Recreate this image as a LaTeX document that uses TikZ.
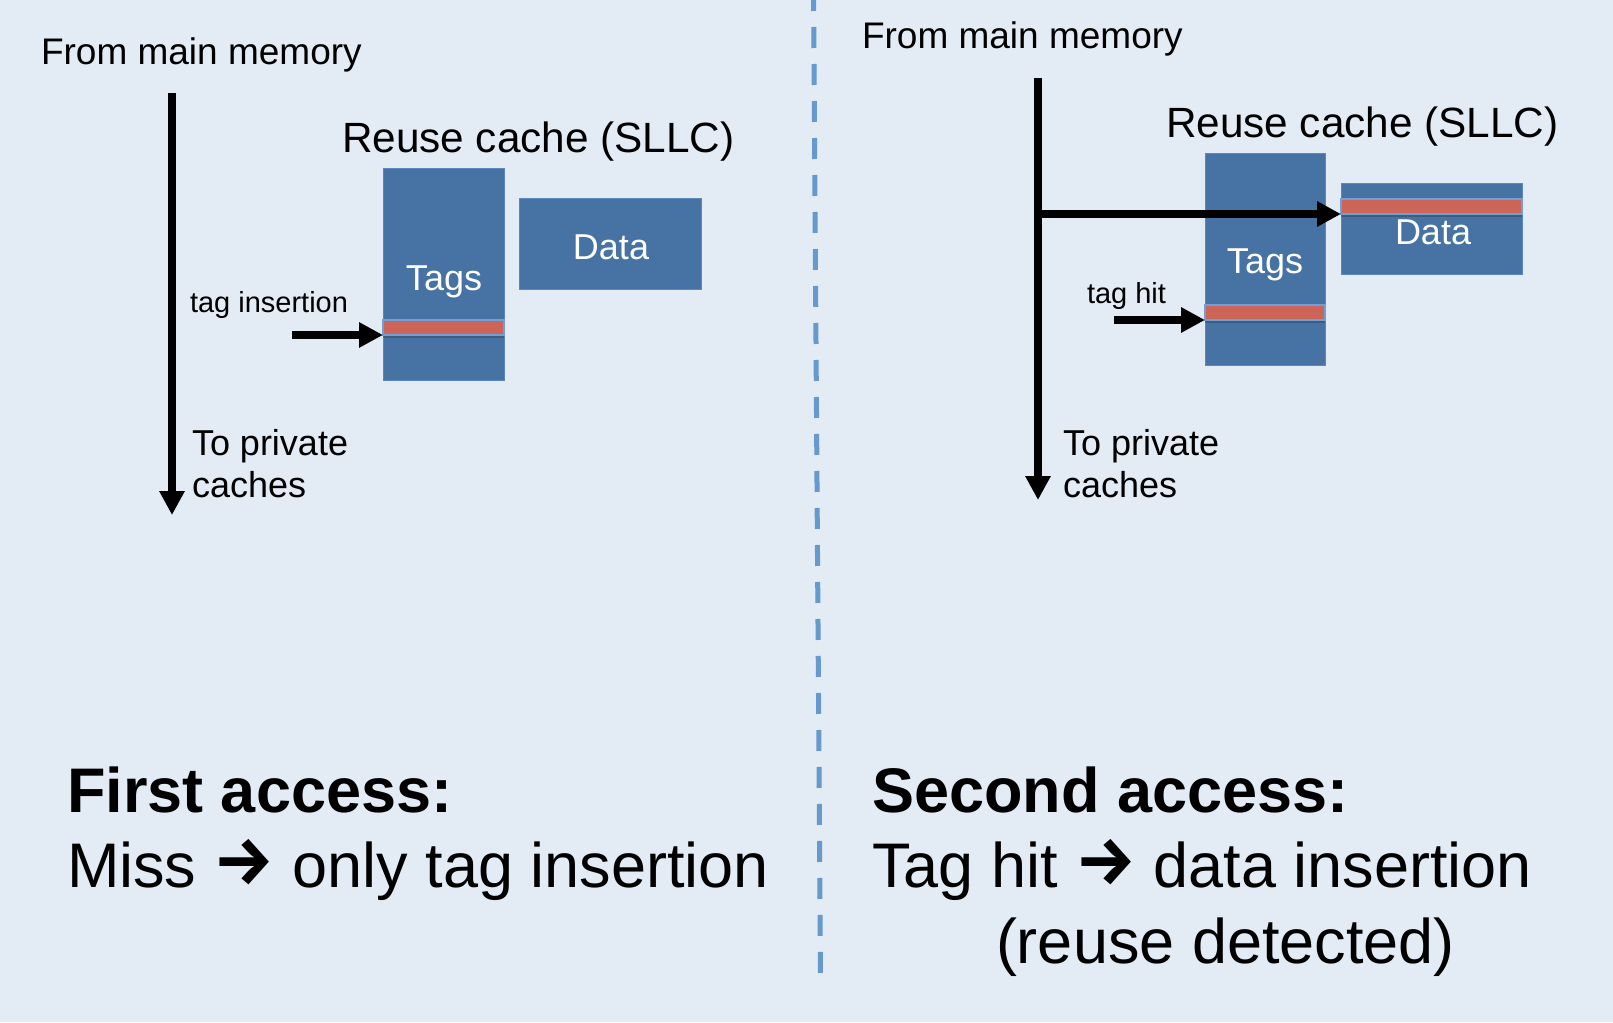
\documentclass[tikz,border=0pt]{standalone}
\usepackage{fontspec}
\setmainfont{Liberation Sans}
\newfontfamily\arrowfont{Fira Sans}
\usetikzlibrary{arrows.meta,shadows}

\definecolor{bgblue}{HTML}{E3EBF5}
\definecolor{boxblue}{HTML}{4673A3}
\definecolor{boxedge}{HTML}{5A88BC}
\definecolor{slotred}{HTML}{CC6557}
\definecolor{slotedge}{HTML}{6E9FD6}
\definecolor{divider}{HTML}{6699CC}

% chevron arrow used inside the summary lines
\newcommand{\leadsarrow}{\raisebox{3pt}{\arrowfont\bfseries\fontsize{68}{75}\selectfont →}}

\begin{document}
\begin{tikzpicture}[x=1pt,y=-1pt,
  every node/.style={inner sep=0pt,outer sep=0pt},
  block/.style={fill=boxblue,draw=boxedge,line width=1pt},
  slot/.style={fill=slotred,draw=slotedge,line width=1.2pt,
    drop shadow={shadow xshift=0pt,shadow yshift=-3pt,opacity=0.35,fill=black!80}},
  flow/.style={line width=8pt,-{Triangle[length=24pt,width=24pt]}},
  caption/.style={font=\fontsize{37}{44}\selectfont,anchor=base west},
  heading/.style={font=\fontsize{42.3}{50}\selectfont,anchor=base west},
  note/.style={font=\fontsize{29}{35}\selectfont,anchor=base west},
  inbox/.style={font=\fontsize{36}{43}\selectfont,text=white,anchor=base},
  verdict/.style={font=\fontsize{63}{75}\selectfont\bfseries,anchor=base west},
  detail/.style={font=\fontsize{63}{75}\selectfont,anchor=base west}]

\useasboundingbox[fill=bgblue] (0,0) rectangle (1613,1022);

% dashed divider between the two cases
\coordinate (divtop) at (813.5,-10);
\coordinate (divbot) at (820.5,978);
\draw[divider,line width=5pt,dash pattern=on 21pt off 16pt] (divtop) -- (divbot);

% ---------------- first access ----------------
\node[caption] (memA) at (41,65) {From main memory};
\node[heading] (titleA) at (342,153) {Reuse cache (SLLC)};

\node[block,minimum width=121pt,minimum height=212pt] (tagsA) at (443.5,274) {};
\node[block,minimum width=182pt,minimum height=91pt] (dataA) at (610,243.5) {};
\node[inbox] (tagsAtxt) at (444,290) {Tags};
\node[inbox] (dataAtxt) at (611,259) {Data};
\node[slot,minimum width=121pt,minimum height=15pt] (slotA) at (443.5,327.5) {};

\coordinate (topA) at (172,93);
\coordinate (botA) at (172,515);
\draw[flow] (topA) -- (botA);

\node[note] (insA) at (190,312) {tag insertion};
\coordinate (insfromA) at (292,335);
\draw[flow] (insfromA) -- (slotA.south west);

\node[caption,font=\fontsize{36}{43}\selectfont] (privA1) at (192,455) {To private};
\node[caption,font=\fontsize{36}{43}\selectfont] (privA2) at (192,497) {caches};

\node[verdict] (firstA) at (67,812) {First access:};
\node[detail] (missA) at (67,887) {Miss \leadsarrow{} only tag insertion};

% ---------------- second access ----------------
\node[caption] (memB) at (862,49) {From main memory};
\node[heading] (titleB) at (1166,137) {Reuse cache (SLLC)};

\node[block,minimum width=120pt,minimum height=212pt] (tagsB) at (1265,259) {};
\node[block,minimum width=181pt,minimum height=91pt] (dataB) at (1431.5,228.5) {};
\node[inbox] (tagsBtxt) at (1265,273) {Tags};
\node[inbox] (dataBtxt) at (1433,244) {Data};
\node[slot,minimum width=120pt,minimum height=15pt] (slotB) at (1265,312.5) {};
\node[slot,minimum width=181pt,minimum height=15pt] (slotD) at (1431.5,206.5) {};

\coordinate (topB) at (1038,78);
\coordinate (botB) at (1038,500);
\coordinate (branchB) at (1038,214);
\draw[flow] (topB) -- (botB);
\draw[flow] (branchB) -- (slotD.south west);

\node[note] (hitB) at (1087,303) {tag hit};
\coordinate (hitfromB) at (1114,320);
\draw[flow] (hitfromB) -- (slotB.south west);

\node[caption,font=\fontsize{36}{43}\selectfont] (privB1) at (1063,455) {To private};
\node[caption,font=\fontsize{36}{43}\selectfont] (privB2) at (1063,497) {caches};

\node[verdict] (secondB) at (872,812) {Second access:};
\node[detail] (tagB) at (872,887) {Tag hit \leadsarrow{} data insertion};
\node[detail] (reuseB) at (996,963) {(reuse detected)};

\end{tikzpicture}
\end{document}
